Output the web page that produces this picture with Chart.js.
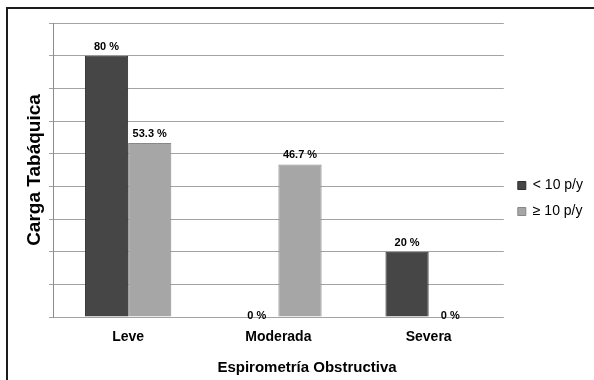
<!DOCTYPE html>
<html>
<head>
<meta charset="utf-8">
<script src="https://cdn.jsdelivr.net/npm/chart.js@4.4.0/dist/chart.umd.min.js"></script>
<style>
  html, body { margin: 0; padding: 0; background: #fff; }
  #marco { position: relative; width: 594px; height: 380px; overflow: hidden; }
  #borde { position: absolute; left: 6px; top: 7px; width: 620px; height: 420px;
           border-left: 2px solid #1c1c1c; border-top: 2px solid #1c1c1c; }
  #grafico { position: absolute; left: 0; top: 0; }
</style>
</head>
<body>
<div id="marco">
  <div id="borde"></div>
  <canvas id="grafico" width="594" height="380"></canvas>
</div>
<script>
// Carga tabaquica segun grado de espirometria obstructiva
const categorias = ['Leve', 'Moderada', 'Severa'];
const series = ['< 10 p/y', '≥ 10 p/y'];
const menos10 = [80, 0, 20];
const mas10 = [53.3, 46.7, 0];
const yMin = 0, yMax = 90, yPaso = 10;

const FUENTE = '"Liberation Sans", Arial, sans-serif';

// etiquetas de porcentaje encima de cada barra
const etiquetasValor = {
  id: 'etiquetasValor',
  afterDatasetsDraw(chart) {
    const ctx = chart.ctx;
    ctx.save();
    ctx.font = 'bold 11px ' + FUENTE;
    ctx.fillStyle = '#000';
    ctx.textAlign = 'center';
    ctx.textBaseline = 'alphabetic';
    chart.data.datasets.forEach((ds, i) => {
      chart.getDatasetMeta(i).data.forEach((barra, j) => {
        const v = ds.data[j];
        const y = v === 0 ? barra.y + 2 : barra.y - 6;
        ctx.fillText(v + ' %', barra.x, y);
      });
    });
    ctx.restore();
  }
};

// titulo del eje x centrado en todo el grafico
const tituloX = {
  id: 'tituloX',
  afterDraw(chart) {
    const ctx = chart.ctx;
    ctx.save();
    ctx.font = 'bold 15px ' + FUENTE;
    ctx.fillStyle = '#000';
    ctx.textAlign = 'center';
    ctx.textBaseline = 'middle';
    ctx.fillText('Espirometría Obstructiva', 307, 368);
    ctx.restore();
  }
};

// acomoda la leyenda junto al area del grafico
const moverLeyenda = {
  id: 'moverLeyenda',
  afterLayout(chart) {
    const l = chart.legend;
    l.top -= 3; l.bottom -= 3;
    l.left += 2; l.right += 2;
  }
};

new Chart(document.getElementById('grafico'), {
  type: 'bar',
  data: {
    labels: categorias,
    datasets: [
      { label: series[0], data: menos10, backgroundColor: '#464646', borderColor: '#2e2e2e', borderWidth: 1 },
      { label: series[1], data: mas10, backgroundColor: '#a6a6a6', borderColor: '#888888', borderWidth: 1 }
    ]
  },
  options: {
    responsive: false,
    animation: false,
    categoryPercentage: 0.575,
    barPercentage: 1,
    layout: { padding: { top: 23, right: 3, bottom: 0, left: 0 } },
    plugins: {
      legend: {
        position: 'right',
        labels: { boxWidth: 8, boxHeight: 8, padding: 12, color: '#000', font: { family: FUENTE, size: 14 } }
      },
      tooltip: { enabled: false }
    },
    scales: {
      x: {
        grid: { display: false, drawTicks: false },
        border: { display: false },
        ticks: { color: '#000', padding: 12, font: { family: FUENTE, size: 14, weight: 'bold' } },
        afterFit(s) { s.height = 63; }
      },
      y: {
        min: yMin,
        max: yMax,
        ticks: { stepSize: yPaso, display: false },
        grid: { color: '#a3a3a3', lineWidth: 1, tickLength: 4 },
        border: { display: true, color: '#8c8c8c' },
        title: {
          display: true, text: 'Carga Tabáquica', color: '#000',
          font: { family: FUENTE, size: 19, weight: 'bold' },
          padding: { top: 23, bottom: 0 }
        },
        afterFit(s) { s.width = 53; }
      }
    }
  },
  plugins: [etiquetasValor, tituloX, moverLeyenda]
});
</script>
</body>
</html>
